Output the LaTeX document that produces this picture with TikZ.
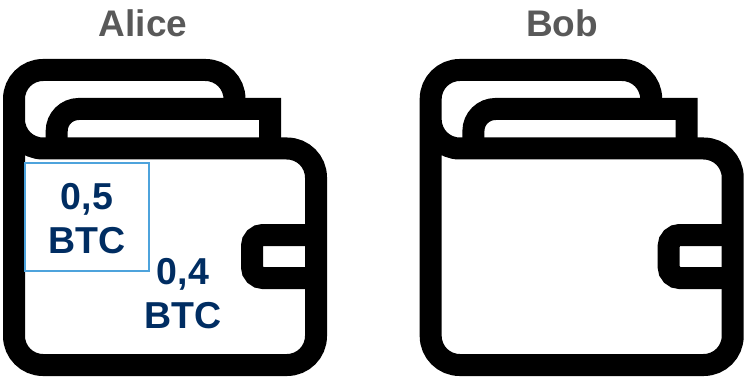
\documentclass[tikz,border=0pt]{standalone}
\usepackage{fontspec}
\setmainfont{Liberation Sans}
\definecolor{NameGray}{HTML}{595959}
\definecolor{CoinNavy}{HTML}{002D62}
\definecolor{CoinBlue}{HTML}{4EA3DC}
\usetikzlibrary{positioning}
\begin{document}
\begin{tikzpicture}[
  x=1pt,y=-1pt,
  owner/.style={text=NameGray,font=\bfseries\fontsize{37}{44}\selectfont,align=center},
  coin/.style={text=CoinNavy,font=\bfseries\fontsize{37.5}{44}\selectfont,align=center},
  coinbox/.style={draw=CoinBlue,line width=2pt,minimum width=124pt,minimum height=108pt,inner sep=0pt},
  wline/.style={draw=black,line width=22pt,line join=miter},
  wallet/.pic={
    \draw[wline,rounded corners=29pt] (234.5,109) -- (234.5,70) -- (14,70) -- (14,365) -- (316,365) -- (316,148.5) -- (14,148.5) -- (14,119.5);
    \draw[wline] (270,148.5) -- (270,109) [rounded corners=22pt] -- (56.7,109) -- (56.7,148.5);
    \draw[wline,rounded corners=11pt] (316,235) -- (252,235) -- (252,278) -- (316,278);
  }
]
\useasboundingbox (0,0) rectangle (747,377);
\pic at (0,0) {wallet};
\pic at (416.7,0) {wallet};
\node[owner] (alice) at (143,23) {Alice};
\node[owner] (bob) at (562,23) {Bob};
\node[coinbox] (boxA) at (87,216.7) {};
\node[coin] (coinA) at (87,219) {0,5\\BTC};
\node[coin] (coinB) at (183,294) {0,4\\BTC};
\end{tikzpicture}
\end{document}
